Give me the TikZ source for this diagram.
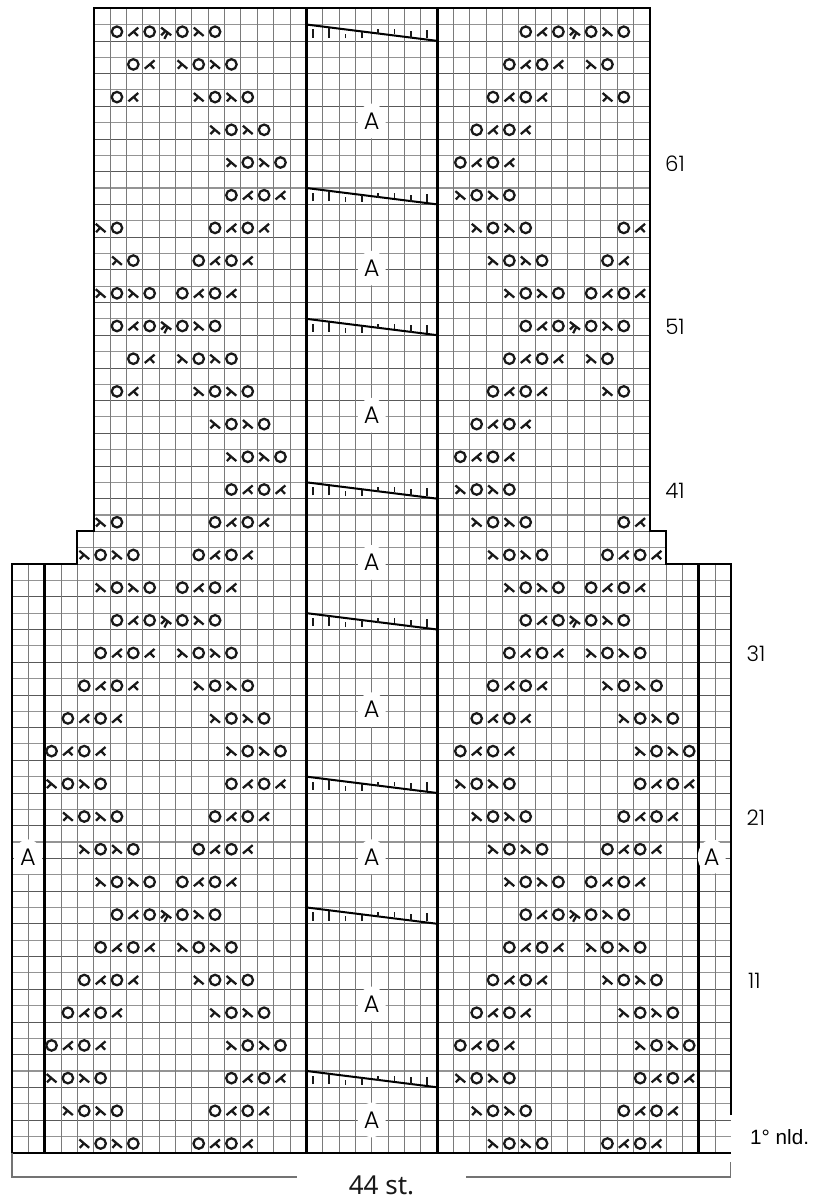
\documentclass[tikz,border=0pt]{standalone}
\usepackage{fontspec}
\setmainfont{Liberation Sans}
\newfontfamily\gothfont{Poppins Light}
\newfontfamily\stfont{Noto Sans}
\usetikzlibrary{positioning}
\tikzset{
    gridv/.style={draw=black!52, line width=0.65pt},
    gridd/.style={draw=black!65, line width=0.45pt},
    gridg/.style={draw=black!42, line width=0.85pt},
    border/.style={draw=black, line width=1.5pt},
    panel/.style={draw=black, line width=2.4pt},
    bracket/.style={draw=black!55, line width=1.3pt},
    sym/.style={draw=black!90, line width=1.7pt},
    tick/.style={draw=black!90, line width=1.25pt},
    mark a/.style={ellipse, fill=white, inner sep=0pt, minimum width=21pt, minimum height=26pt, text=black, font=\gothfont\fontsize{18}{18}\selectfont},
    rownum/.style={inner sep=0pt, text=black, font=\gothfont\fontsize{16}{16}\selectfont},
    pics/yo/.style={code={\draw[sym] (-.08,.06) circle[radius=.32];}},
    pics/kr/.style={code={\draw[sym] (-.38,.31) -- (.22,-.2) (-.1,.07) -- (-.36,-.2);}},
    pics/kl/.style={code={\draw[sym] (.22,.31) -- (-.38,-.2) (-.06,.07) -- (.2,-.2);}},
    pics/kd/.style={code={\draw[sym] (-.38,.31) -- (.24,-.16) (-.12,.1) -- (-.38,-.16) (.02,0) -- (-.18,-.38);}},
    pics/ror/.style={code={\pic at (.5,0) {kr}; \pic at (1.5,0) {yo}; \pic at (2.5,0) {kr}; \pic at (3.5,0) {yo};}},
    pics/olo/.style={code={\pic at (.5,0) {yo}; \pic at (1.5,0) {kl}; \pic at (2.5,0) {yo}; \pic at (3.5,0) {kl};}},
    pics/ro/.style={code={\pic at (.5,0) {kr}; \pic at (1.5,0) {yo};}},
    pics/ol/.style={code={\pic at (.5,0) {yo}; \pic at (1.5,0) {kl};}},
    pics/mid/.style={code={\pic at (.5,0) {yo}; \pic at (1.5,0) {kl}; \pic at (2.5,0) {yo}; \pic at (3.5,0) {kd}; \pic at (4.5,0) {yo}; \pic at (5.5,0) {kr}; \pic at (6.5,0) {yo};}},
    pics/slant/.style={code={
        \draw[border] (0,0) -- (8,-1);
        \foreach \i/\a/\b in {.4/-.8/-.3, 1.4/-.8/-.2, 2.4/-.85/-.55, 3.4/-.85/-.45, 4.4/-.6/-.3, 5.4/-.6/-.3, 6.4/-.85/-.4, 7.4/-.85/-.35}
            \draw[tick] (\i,\a) -- (\i,\b);
    }}
}
\usetikzlibrary{shapes.geometric}
\begin{document}
\begin{tikzpicture}[x=12.2625pt, y=12.2625pt]
\useasboundingbox (-.734,-3.138) rectangle (49.725,70.5);
% grid
\foreach \r in {1,3,...,35} \draw[gridg] (0,\r) -- (44,\r);
\foreach \r in {2,4,...,34} \draw[gridd] (0,\r) -- (44,\r);
\draw[gridd] (4,36) -- (40,36);
\draw[gridg] (4,37) -- (40,37);
\draw[gridd] (5,38) -- (39,38);
\foreach \r in {39,41,...,69} \draw[gridg] (5,\r) -- (39,\r);
\foreach \r in {40,42,...,68} \draw[gridd] (5,\r) -- (39,\r);
\foreach \c in {1,...,43} \draw[gridv] (\c,0) -- (\c,36);
\foreach \c in {5,...,39} \draw[gridv] (\c,36) -- (\c,38);
\foreach \c in {6,...,38} \draw[gridv] (\c,38) -- (\c,70);
% outline
\draw[border] (44,2.3) -- (44,36) -- (40,36) -- (40,38) -- (39,38) -- (39,70) -- (5,70) -- (5,38) -- (4,38) -- (4,36) -- (0,36) -- (0,0) -- (44,0);
\foreach \c/\t in {2/36, 18/70, 26/70, 42/36} \draw[panel] (\c,0) -- (\c,\t);
\foreach \r in {5,15,23,33,41,51,59,69} \pic at (18,\r) {slant};
% labels
\foreach \n/\p in {a/63.1, b/54.1, c/45.1, d/36.1, e/27.1, f/18.1, g/9.1, h/2} \node[mark a] (mark\n) at (22,\p) {A};
\node[mark a] (markl) at (.98,18.1) {A};
\node[mark a] (markr) at (42.8,18.1) {A};
\foreach \n/\c in {61/40.55, 51/40.55, 41/40.55, 31/45.5, 21/45.5, 11/45.4} \node[rownum] (row\n) at (\c,\n-.5) {\n};
\node[inner sep=0pt, font=\fontsize{15.5}{15.5}\selectfont] (first) at (46.95,.95) {1° nld.};
\node[inner sep=0pt, text=black!90, font=\stfont\fontsize{19.5}{19.5}\selectfont] (total) at (22.6,-2) {44 st.};
% width bracket
\coordinate (brla) at (0,0);
\coordinate (brlb) at (0,-1.49);
\coordinate (brlc) at (17.43,-1.49);
\coordinate (brra) at (27.77,-1.49);
\coordinate (brrb) at (43.94,-1.49);
\coordinate (brrc) at (43.94,-.55);
\draw[bracket] (brla) -- (brlb) -- (brlc);
\draw[bracket] (brra) -- (brrb) -- (brrc);
% stitches
\foreach \r/\c/\k in {
    1/4/ror, 1/11/olo, 1/29/ror, 1/36/olo,
    3/3/ror, 3/12/olo, 3/28/ror, 3/37/olo,
    5/2/ror, 5/13/olo, 5/27/ror, 5/38/olo,
    7/2/olo, 7/13/ror, 7/27/olo, 7/38/ror,
    9/3/olo, 9/12/ror, 9/28/olo, 9/37/ror,
    11/4/olo, 11/11/ror, 11/29/olo, 11/36/ror,
    13/5/olo, 13/10/ror, 13/30/olo, 13/35/ror,
    15/6/mid, 15/31/mid,
    17/5/ror, 17/10/olo, 17/30/ror, 17/35/olo,
    19/4/ror, 19/11/olo, 19/29/ror, 19/36/olo,
    21/3/ror, 21/12/olo, 21/28/ror, 21/37/olo,
    23/2/ror, 23/13/olo, 23/27/ror, 23/38/olo,
    25/2/olo, 25/13/ror, 25/27/olo, 25/38/ror,
    27/3/olo, 27/12/ror, 27/28/olo, 27/37/ror,
    29/4/olo, 29/11/ror, 29/29/olo, 29/36/ror,
    31/5/olo, 31/10/ror, 31/30/olo, 31/35/ror,
    33/6/mid, 33/31/mid,
    35/5/ror, 35/10/olo, 35/30/ror, 35/35/olo,
    37/4/ror, 37/11/olo, 37/29/ror, 37/36/olo,
    39/5/ro, 39/12/olo, 39/28/ror, 39/37/ol,
    41/13/olo, 41/27/ror,
    43/13/ror, 43/27/olo,
    45/12/ror, 45/28/olo,
    47/6/ol, 47/11/ror, 47/29/olo, 47/36/ro,
    49/7/ol, 49/10/ror, 49/30/olo, 49/35/ro,
    51/6/mid, 51/31/mid,
    53/5/ror, 53/10/olo, 53/30/ror, 53/35/olo,
    55/6/ro, 55/11/olo, 55/29/ror, 55/36/ol,
    57/5/ro, 57/12/olo, 57/28/ror, 57/37/ol,
    59/13/olo, 59/27/ror,
    61/13/ror, 61/27/olo,
    63/12/ror, 63/28/olo,
    65/6/ol, 65/11/ror, 65/29/olo, 65/36/ro,
    67/7/ol, 67/10/ror, 67/30/olo, 67/35/ro,
    69/6/mid, 69/31/mid}
    \pic at (\c,\r-.5) {\k};
\end{tikzpicture}
\end{document}
